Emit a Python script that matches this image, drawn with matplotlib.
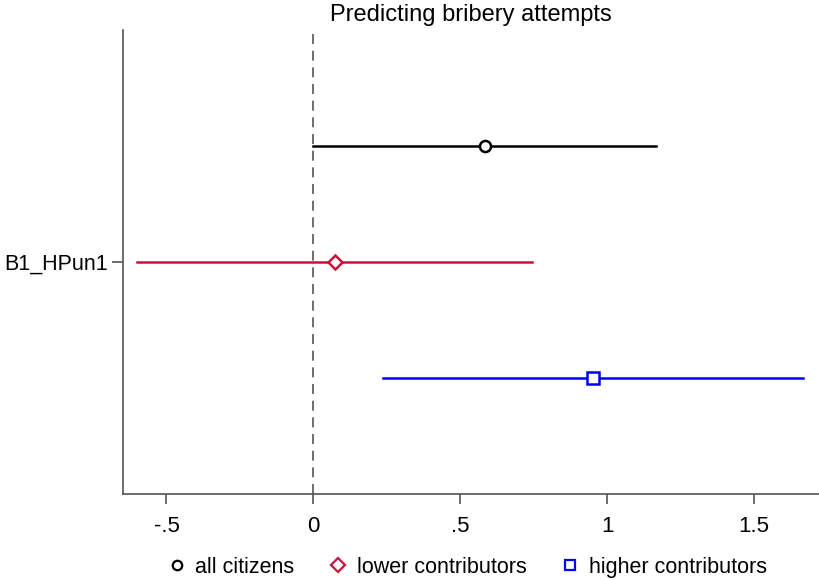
import matplotlib
matplotlib.use("Agg")
import matplotlib.pyplot as plt
from matplotlib.lines import Line2D

plt.rcParams['font.family'] = ['Liberation Sans', 'DejaVu Sans']

# Coefficient estimates and confidence intervals for B1_HPun1
series = ["all citizens", "lower contributors", "higher contributors"]
estimates = [0.583, 0.075, 0.952]
ci_low = [0.0, -0.60, 0.237]
ci_high = [1.165, 0.746, 1.668]
row_pos = [1, 0, -1]
colors = ["#000000", "#c8143c", "#0000ff"]
markers = ["o", "D", "s"]

xticks = [-0.5, 0, 0.5, 1, 1.5]
xticklabels = ["-.5", "0", ".5", "1", "1.5"]

fig = plt.figure(figsize=(8.2, 5.8), dpi=100)
ax = fig.add_axes([0.15, 0.148, 0.85, 0.8])

ax.axvline(0, color="#555555", linestyle=(0, (6, 4)), linewidth=1.2, zorder=1)

handles = []
for name, est, lo, hi, y, c, m in zip(series, estimates, ci_low, ci_high,
                                      row_pos, colors, markers):
    ax.plot([lo, hi], [y, y], color=c, linewidth=1.8, zorder=2)
    ms = 8 if m != "D" else 7
    ax.plot([est], [y], marker=m, markersize=ms,
            markerfacecolor="white", markeredgecolor=c,
            markeredgewidth=1.8, linestyle="none", zorder=3)
    handles.append(Line2D([], [], marker=m, markersize=ms * 0.85 if m != "D" else 7.5,
                          markerfacecolor="white", markeredgecolor=c,
                          markeredgewidth=1.6, linestyle="none", label=name))

ax.set_xlim(-0.648, 1.725)
ax.set_ylim(-2.0, 2.0)
ax.set_xticks(xticks)
ax.set_xticklabels(xticklabels)
ax.set_yticks([0])
ax.set_yticklabels(["B1_HPun1"])
ax.tick_params(axis="both", length=7, width=1.2, color="#555555")
ax.tick_params(axis="x", labelsize=16, pad=9)
ax.tick_params(axis="y", labelsize=15.5, length=8, pad=3)

for side in ["top", "right"]:
    ax.spines[side].set_visible(False)
for side in ["left", "bottom"]:
    ax.spines[side].set_color("#555555")
    ax.spines[side].set_linewidth(1.2)

fig.text(0.574, 0.974, "Predicting bribery attempts", fontsize=17,
         ha="center", va="center")

fig.legend(handles=handles, loc="center", bbox_to_anchor=(0.570, 0.022),
           ncol=3, frameon=False, fontsize=15.5, handlelength=0.8,
           handletextpad=0.45, columnspacing=1.65, borderpad=0.0)

fig.savefig("out.png", dpi=100)
